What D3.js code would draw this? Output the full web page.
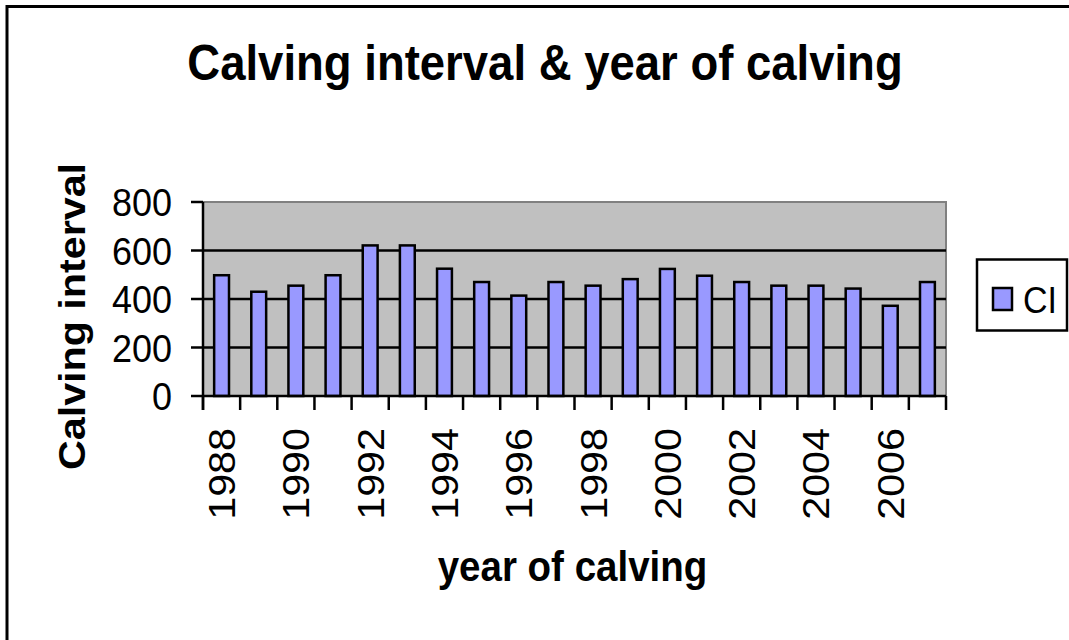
<!DOCTYPE html>
<html>
<head>
<meta charset="utf-8">
<script src="https://cdn.jsdelivr.net/npm/d3@7"></script>
<style>
  html, body { margin: 0; padding: 0; background: #fff; overflow: hidden; }
  svg { display: block; font-family: "Liberation Sans", Arial, sans-serif; }
</style>
</head>
<body>
<div id="chart"></div>
<script>
(function() {
    // data
    const YEARS = [1988, 1989, 1990, 1991, 1992, 1993, 1994, 1995, 1996, 1997,
                   1998, 1999, 2000, 2001, 2002, 2003, 2004, 2005, 2006, 2007];
    const CI = [498, 430, 455, 498, 621, 621, 525, 470, 414, 470,
                455, 482, 524, 496, 470, 455, 455, 443, 372, 470];
    const Y_TICKS = [0, 200, 400, 600, 800];
    const SERIES_NAME = 'CI';

    const W = 1069, H = 640;
    const BAR_FILL = '#9999ff';
    const PLOT_FILL = '#c0c0c0';
    const PLOT_EDGE = '#808080';
    const SY = 1.1; // the source text is a little stretched vertically

    const plot = { left: 203, right: 946, top: 202, bottom: 396 };

    const svg = d3.select('#chart').append('svg')
        .attr('width', W)
        .attr('height', H);

    // outer chart border (runs off the right and bottom edges)
    svg.append('rect')
        .attr('x', 7).attr('y', 6.5)
        .attr('width', W + 20).attr('height', H + 20)
        .attr('fill', '#fff')
        .attr('stroke', '#000')
        .attr('stroke-width', 3);

    const x = d3.scaleBand()
        .domain(YEARS)
        .range([plot.left, plot.right])
        .padding(0);

    const y = d3.scaleLinear()
        .domain([0, 800])
        .range([plot.bottom, plot.top]);

    function label(px, py, rot) {
        return 'translate(' + px + ',' + py + ') scale(1,' + SY + ')' + (rot ? ' rotate(' + rot + ')' : '');
    }

    // plot area
    svg.append('rect')
        .attr('x', plot.left).attr('y', plot.top)
        .attr('width', plot.right - plot.left)
        .attr('height', plot.bottom - plot.top)
        .attr('fill', PLOT_FILL)
        .attr('stroke', PLOT_EDGE)
        .attr('stroke-width', 2);

    // gridlines
    svg.append('g').selectAll('line')
        .data(Y_TICKS.filter(function(d) { return d > 0 && d < 800; }))
        .join('line')
        .attr('x1', plot.left).attr('x2', plot.right)
        .attr('y1', function(d) { return y(d); })
        .attr('y2', function(d) { return y(d); })
        .attr('stroke', '#000')
        .attr('stroke-width', 2.5);

    // bars
    const bw = x.bandwidth() * 0.4;
    svg.append('g').selectAll('rect')
        .data(YEARS.map(function(yr, i) { return { year: yr, v: CI[i] }; }))
        .join('rect')
        .attr('x', function(d) { return x(d.year) + (x.bandwidth() - bw) / 2; })
        .attr('y', function(d) { return y(d.v); })
        .attr('width', bw)
        .attr('height', function(d) { return y(0) - y(d.v); })
        .attr('fill', BAR_FILL)
        .attr('stroke', '#000')
        .attr('stroke-width', 2.5);

    // y axis
    const gy = svg.append('g');
    gy.append('line')
        .attr('x1', plot.left).attr('x2', plot.left)
        .attr('y1', plot.top).attr('y2', plot.bottom + 14)
        .attr('stroke', '#000').attr('stroke-width', 2.5);
    gy.selectAll('line.tick').data(Y_TICKS).join('line')
        .attr('class', 'tick')
        .attr('x1', plot.left - 12).attr('x2', plot.left)
        .attr('y1', function(d) { return y(d); })
        .attr('y2', function(d) { return y(d); })
        .attr('stroke', '#000').attr('stroke-width', 2.5);
    gy.selectAll('text').data(Y_TICKS).join('text')
        .attr('transform', function(d) { return label(172, y(d)); })
        .attr('text-anchor', 'end')
        .attr('dy', '0.36em')
        .attr('font-size', 36)
        .text(function(d) { return d; });

    // x axis
    const gx = svg.append('g');
    gx.append('line')
        .attr('x1', plot.left).attr('x2', plot.right)
        .attr('y1', plot.bottom).attr('y2', plot.bottom)
        .attr('stroke', '#000').attr('stroke-width', 2.5);
    const edges = YEARS.map(function(d) { return x(d); }).concat([plot.right]);
    gx.selectAll('line.tick').data(edges).join('line')
        .attr('class', 'tick')
        .attr('x1', function(d) { return d; }).attr('x2', function(d) { return d; })
        .attr('y1', plot.bottom).attr('y2', plot.bottom + 14)
        .attr('stroke', '#000').attr('stroke-width', 2.5);
    gx.selectAll('text').data(YEARS.filter(function(d, i) { return i % 2 === 0; })).join('text')
        .attr('transform', function(d) {
            return label(x(d) + x.bandwidth() / 2 + 13.5, 428, -90);
        })
        .attr('text-anchor', 'end')
        .attr('font-size', 37.5)
        .text(function(d) { return d; });

    // titles
    svg.append('text')
        .attr('transform', label(545, 80))
        .attr('text-anchor', 'middle')
        .attr('font-size', 45.5)
        .attr('font-weight', 'bold')
        .text('Calving interval & year of calving');

    svg.append('text')
        .attr('transform', label(572.5, 581))
        .attr('text-anchor', 'middle')
        .attr('font-size', 38.5)
        .attr('font-weight', 'bold')
        .text('year of calving');

    svg.append('text')
        .attr('transform', label(85, 316.5, -90))
        .attr('text-anchor', 'middle')
        .attr('font-size', 37.5)
        .attr('font-weight', 'bold')
        .text('Calving interval');

    // legend
    const lg = svg.append('g');
    lg.append('rect')
        .attr('x', 977).attr('y', 259.5)
        .attr('width', 90).attr('height', 71)
        .attr('fill', '#fff')
        .attr('stroke', '#000').attr('stroke-width', 2.5);
    lg.append('rect')
        .attr('x', 993).attr('y', 288)
        .attr('width', 19).attr('height', 22)
        .attr('fill', BAR_FILL)
        .attr('stroke', '#000').attr('stroke-width', 2.5);
    lg.append('text')
        .attr('transform', label(1023, 313))
        .attr('font-size', 34)
        .text(SERIES_NAME);
})();
</script>
</body>
</html>
